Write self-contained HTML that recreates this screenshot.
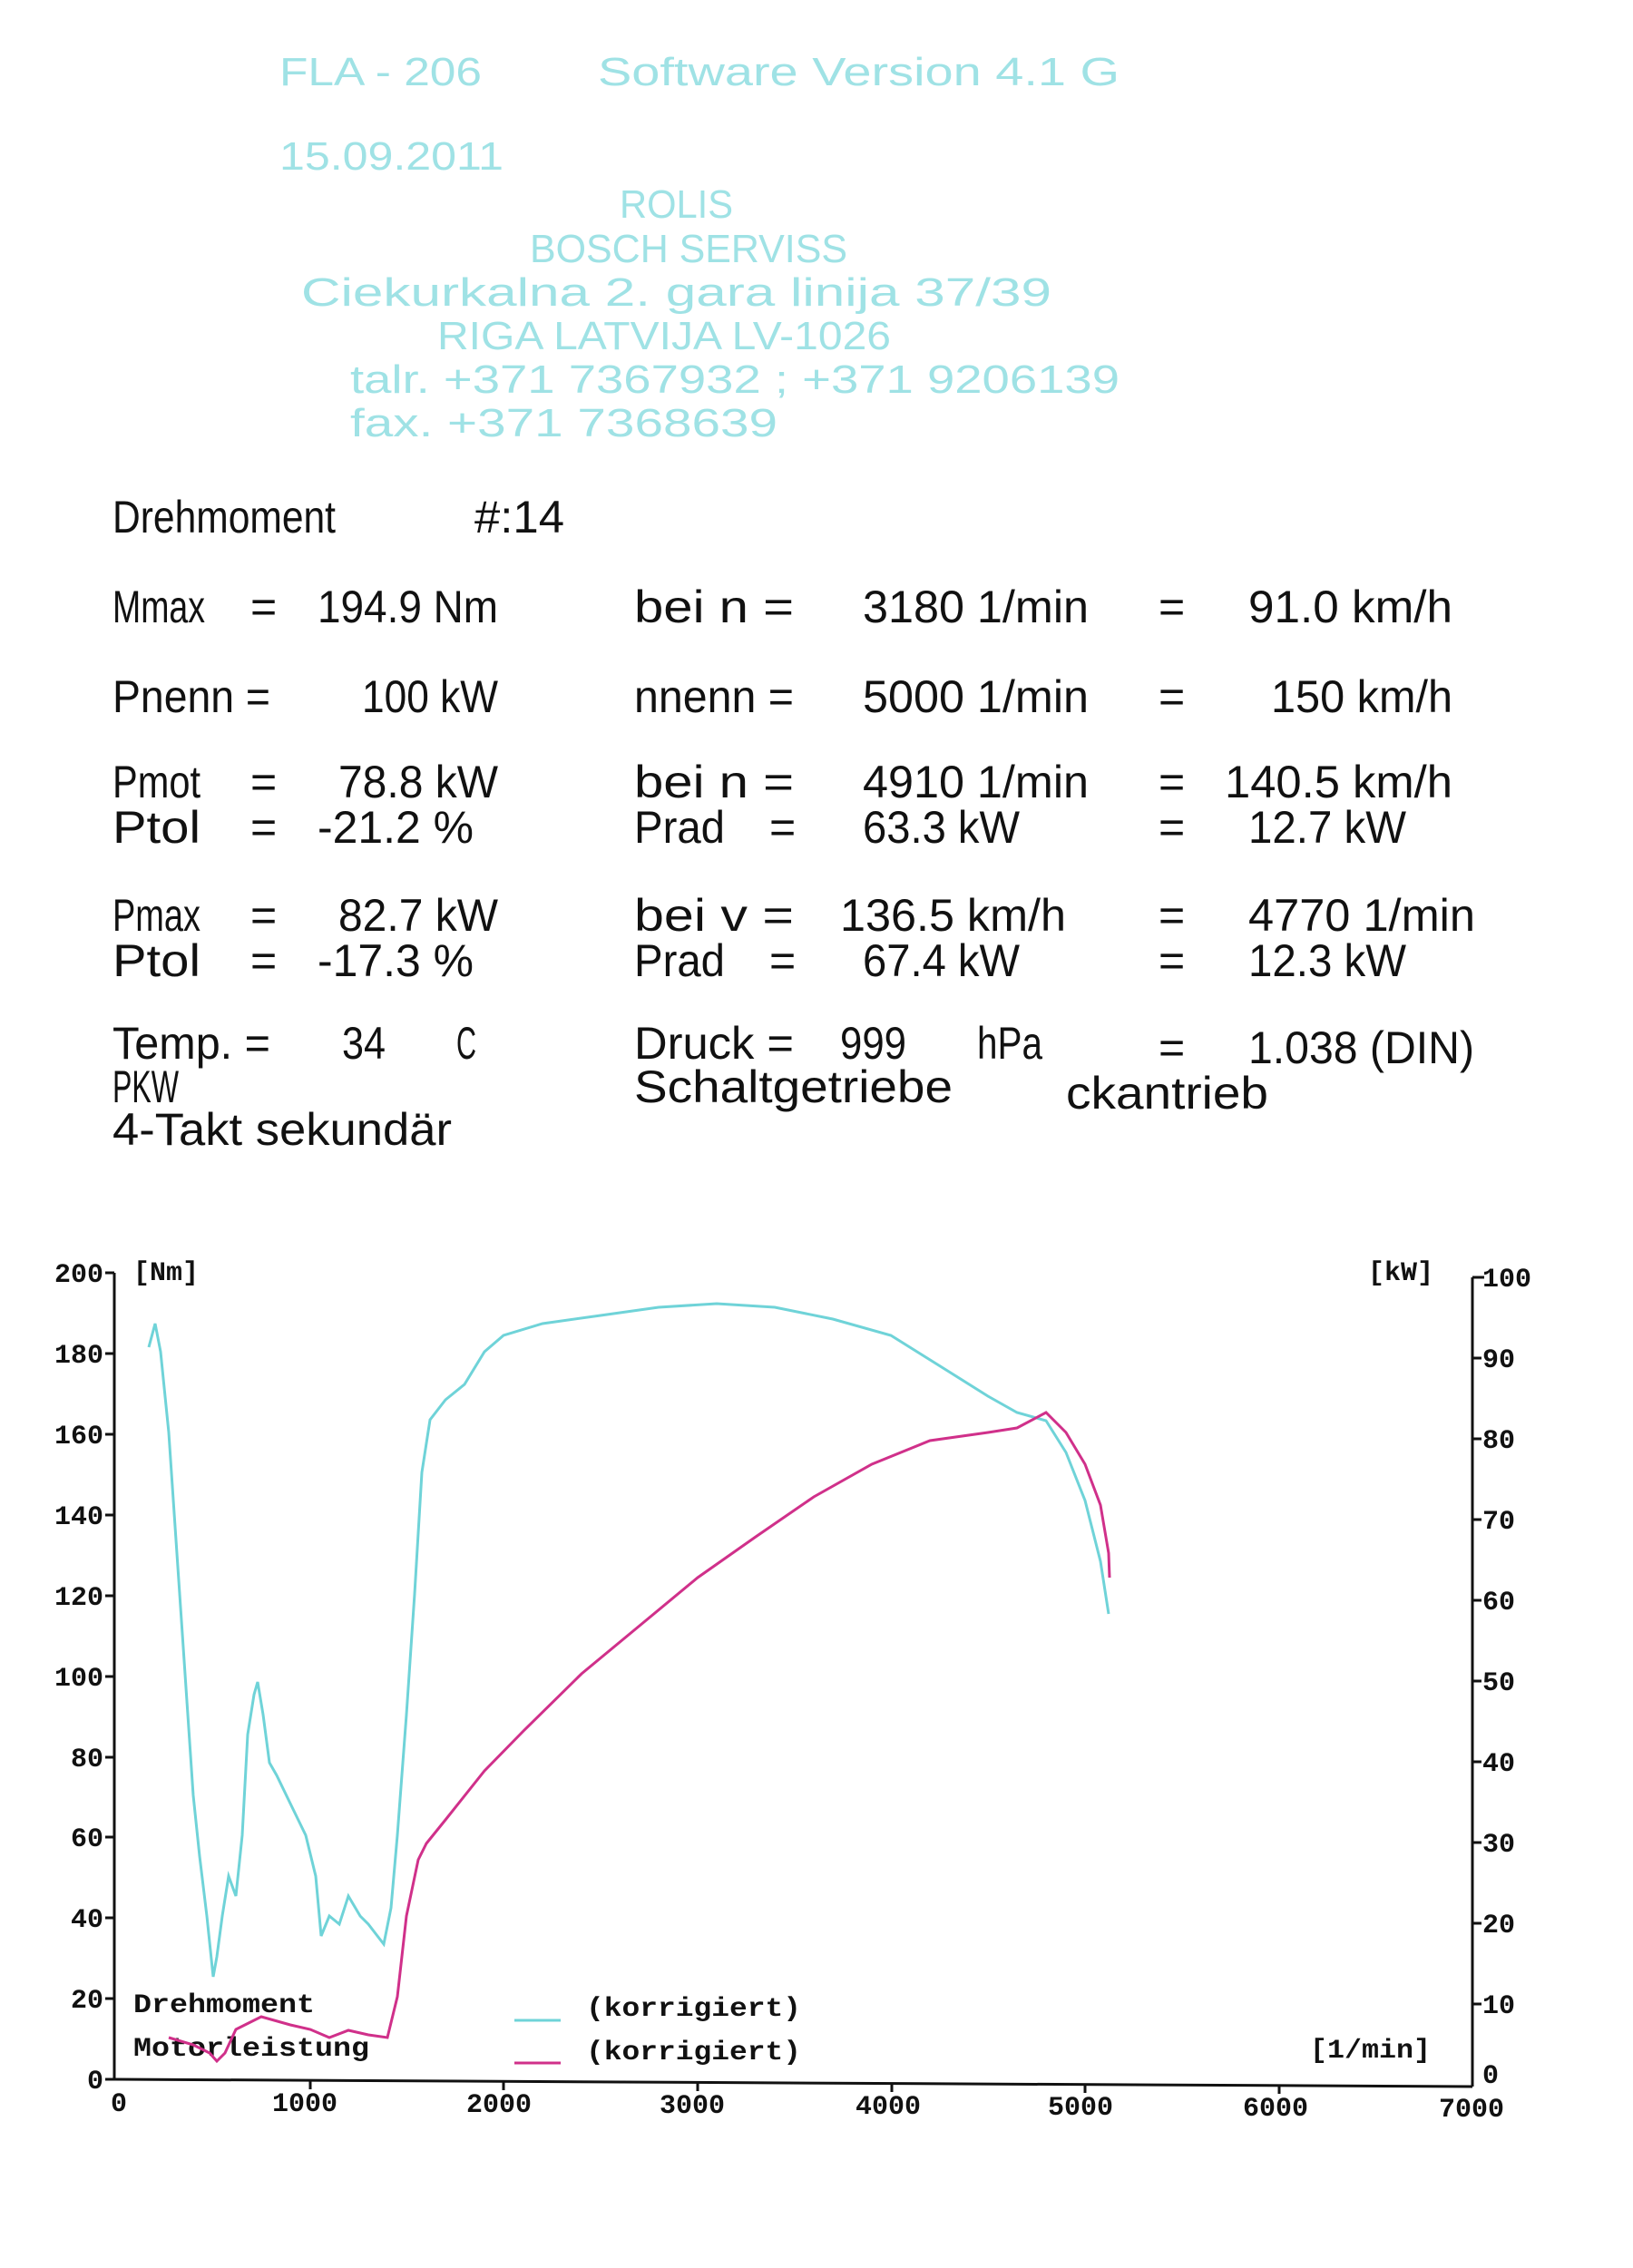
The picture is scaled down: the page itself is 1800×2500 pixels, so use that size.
<!DOCTYPE html>
<html><head><meta charset="utf-8"><style>
html,body{margin:0;padding:0;background:#fff;}
svg{display:block;}
.h{font-family:"Liberation Sans",sans-serif;fill:#9fe2e5;font-size:44px;}
.t{font-family:"Liberation Sans",sans-serif;fill:#111;font-size:50px;}
.a{font-family:"Liberation Mono",monospace;fill:#111;font-size:30px;font-weight:bold;}
</style></head><body>
<svg width="1800" height="2500" viewBox="0 0 1800 2500" xmlns="http://www.w3.org/2000/svg">
<rect width="1800" height="2500" fill="#fff"/>
<g class="h">
<text x="308" y="94" textLength="223" lengthAdjust="spacingAndGlyphs">FLA - 206</text>
<text x="659" y="94" textLength="575" lengthAdjust="spacingAndGlyphs">Software Version  4.1 G</text>
<text x="308" y="187" textLength="247" lengthAdjust="spacingAndGlyphs">15.09.2011</text>
<text x="683" y="240" textLength="125" lengthAdjust="spacingAndGlyphs">ROLIS</text>
<text x="584" y="289" textLength="350" lengthAdjust="spacingAndGlyphs">BOSCH  SERVISS</text>
<text x="332" y="337" textLength="827" lengthAdjust="spacingAndGlyphs">Ciekurkalna  2. gara linija 37/39</text>
<text x="482" y="385" textLength="500" lengthAdjust="spacingAndGlyphs">RIGA LATVIJA LV-1026</text>
<text x="386" y="433" textLength="848" lengthAdjust="spacingAndGlyphs">talr.   +371 7367932 ; +371 9206139</text>
<text x="386" y="481" textLength="471" lengthAdjust="spacingAndGlyphs">fax.    +371 7368639</text>
</g>
<g class="t">
<text x="124" y="587" textLength="246" lengthAdjust="spacingAndGlyphs">Drehmoment</text>
<text x="523" y="587" textLength="99" lengthAdjust="spacingAndGlyphs">#:14</text>

<text x="124" y="686" textLength="102" lengthAdjust="spacingAndGlyphs">Mmax</text>
<text x="276" y="686">=</text>
<text x="350" y="686" textLength="199" lengthAdjust="spacingAndGlyphs">194.9 Nm</text>
<text x="699" y="686" textLength="176" lengthAdjust="spacingAndGlyphs">bei n =</text>
<text x="951" y="686" textLength="249" lengthAdjust="spacingAndGlyphs">3180 1/min</text>
<text x="1277" y="686">=</text>
<text x="1376" y="686" textLength="225" lengthAdjust="spacingAndGlyphs">91.0 km/h</text>

<text x="124" y="785" textLength="174" lengthAdjust="spacingAndGlyphs">Pnenn =</text>
<text x="399" y="785" textLength="150" lengthAdjust="spacingAndGlyphs">100 kW</text>
<text x="699" y="785" textLength="176" lengthAdjust="spacingAndGlyphs">nnenn =</text>
<text x="951" y="785" textLength="249" lengthAdjust="spacingAndGlyphs">5000 1/min</text>
<text x="1277" y="785">=</text>
<text x="1401" y="785" textLength="200" lengthAdjust="spacingAndGlyphs">150 km/h</text>

<text x="124" y="879" textLength="97" lengthAdjust="spacingAndGlyphs">Pmot</text>
<text x="276" y="879">=</text>
<text x="373" y="879" textLength="176" lengthAdjust="spacingAndGlyphs">78.8 kW</text>
<text x="699" y="879" textLength="176" lengthAdjust="spacingAndGlyphs">bei n =</text>
<text x="951" y="879" textLength="249" lengthAdjust="spacingAndGlyphs">4910 1/min</text>
<text x="1277" y="879">=</text>
<text x="1350" y="879" textLength="251" lengthAdjust="spacingAndGlyphs">140.5 km/h</text>

<text x="124" y="929" textLength="97" lengthAdjust="spacingAndGlyphs">Ptol</text>
<text x="276" y="929">=</text>
<text x="350" y="929" textLength="172" lengthAdjust="spacingAndGlyphs">-21.2 %</text>
<text x="699" y="929" textLength="100" lengthAdjust="spacingAndGlyphs">Prad</text>
<text x="848" y="929">=</text>
<text x="951" y="929" textLength="173" lengthAdjust="spacingAndGlyphs">63.3 kW</text>
<text x="1277" y="929">=</text>
<text x="1376" y="929" textLength="174" lengthAdjust="spacingAndGlyphs">12.7 kW</text>

<text x="124" y="1026" textLength="97" lengthAdjust="spacingAndGlyphs">Pmax</text>
<text x="276" y="1026">=</text>
<text x="373" y="1026" textLength="176" lengthAdjust="spacingAndGlyphs">82.7 kW</text>
<text x="699" y="1026" textLength="176" lengthAdjust="spacingAndGlyphs">bei v =</text>
<text x="926" y="1026" textLength="249" lengthAdjust="spacingAndGlyphs">136.5 km/h</text>
<text x="1277" y="1026">=</text>
<text x="1376" y="1026" textLength="250" lengthAdjust="spacingAndGlyphs">4770 1/min</text>

<text x="124" y="1076" textLength="97" lengthAdjust="spacingAndGlyphs">Ptol</text>
<text x="276" y="1076">=</text>
<text x="350" y="1076" textLength="172" lengthAdjust="spacingAndGlyphs">-17.3 %</text>
<text x="699" y="1076" textLength="100" lengthAdjust="spacingAndGlyphs">Prad</text>
<text x="848" y="1076">=</text>
<text x="951" y="1076" textLength="173" lengthAdjust="spacingAndGlyphs">67.4 kW</text>
<text x="1277" y="1076">=</text>
<text x="1376" y="1076" textLength="174" lengthAdjust="spacingAndGlyphs">12.3 kW</text>

<text x="124" y="1167" textLength="174" lengthAdjust="spacingAndGlyphs">Temp. =</text>
<text x="377" y="1167" textLength="48" lengthAdjust="spacingAndGlyphs">34</text>
<text x="503" y="1167" textLength="22" lengthAdjust="spacingAndGlyphs">C</text>
<text x="699" y="1167" textLength="176" lengthAdjust="spacingAndGlyphs">Druck =</text>
<text x="926" y="1167" textLength="73" lengthAdjust="spacingAndGlyphs">999</text>
<text x="1077" y="1167" textLength="72" lengthAdjust="spacingAndGlyphs">hPa</text>
<text x="1277" y="1172">=</text>
<text x="1376" y="1172" textLength="249" lengthAdjust="spacingAndGlyphs">1.038 (DIN)</text>
<text x="124" y="1215" textLength="73" lengthAdjust="spacingAndGlyphs">PKW</text>
<text x="699" y="1215" textLength="351" lengthAdjust="spacingAndGlyphs">Schaltgetriebe</text>
<text x="1175" y="1222" textLength="223" lengthAdjust="spacingAndGlyphs">ckantrieb</text>
<text x="124" y="1262" textLength="374" lengthAdjust="spacingAndGlyphs">4-Takt sekundär</text>
</g>

<g stroke="#111" stroke-width="3" fill="none">
<line x1="126" y1="1403" x2="126" y2="2292"/>
<line x1="126" y1="2292" x2="1623" y2="2300"/>
<line x1="1623" y1="1408" x2="1623" y2="2300"/>
<line x1="1623" y1="1408" x2="1636" y2="1408"/>
<line x1="116" y1="1403" x2="126" y2="1403"/>
</g>
<g stroke="#111" stroke-width="3">
<line x1="116" y1="1492" x2="126" y2="1492"/><line x1="116" y1="1581" x2="126" y2="1581"/>
<line x1="116" y1="1670" x2="126" y2="1670"/><line x1="116" y1="1759" x2="126" y2="1759"/>
<line x1="116" y1="1848" x2="126" y2="1848"/><line x1="116" y1="1937" x2="126" y2="1937"/>
<line x1="116" y1="2025" x2="126" y2="2025"/><line x1="116" y1="2114" x2="126" y2="2114"/>
<line x1="116" y1="2203" x2="126" y2="2203"/><line x1="116" y1="2292" x2="126" y2="2292"/>
<line x1="1623" y1="1497" x2="1633" y2="1497"/><line x1="1623" y1="1586" x2="1633" y2="1586"/>
<line x1="1623" y1="1675" x2="1633" y2="1675"/><line x1="1623" y1="1764" x2="1633" y2="1764"/>
<line x1="1623" y1="1853" x2="1633" y2="1853"/><line x1="1623" y1="1942" x2="1633" y2="1942"/>
<line x1="1623" y1="2031" x2="1633" y2="2031"/><line x1="1623" y1="2120" x2="1633" y2="2120"/>
<line x1="1623" y1="2209" x2="1633" y2="2209"/>
<line x1="342" y1="2293" x2="342" y2="2303"/><line x1="555" y1="2294" x2="555" y2="2304"/>
<line x1="769" y1="2295" x2="769" y2="2305"/><line x1="983" y1="2296" x2="983" y2="2306"/>
<line x1="1196" y1="2297" x2="1196" y2="2307"/><line x1="1410" y1="2298" x2="1410" y2="2308"/>
</g>
<g class="a" text-anchor="end">
<text x="114" y="1413">200</text><text x="114" y="1502">180</text><text x="114" y="1591">160</text>
<text x="114" y="1680">140</text><text x="114" y="1769">120</text><text x="114" y="1858">100</text>
<text x="114" y="1947">80</text><text x="114" y="2035">60</text><text x="114" y="2124">40</text>
<text x="114" y="2213">20</text><text x="114" y="2302">0</text>
</g>
<g class="a">
<text x="1634" y="1418">100</text><text x="1634" y="1507">90</text><text x="1634" y="1596">80</text>
<text x="1634" y="1685">70</text><text x="1634" y="1774">60</text><text x="1634" y="1863">50</text>
<text x="1634" y="1952">40</text><text x="1634" y="2041">30</text><text x="1634" y="2130">20</text>
<text x="1634" y="2219">10</text><text x="1634" y="2296">0</text>
</g>
<g class="a" text-anchor="middle">
<text x="131" y="2327">0</text><text x="336" y="2327">1000</text><text x="550" y="2328">2000</text>
<text x="763" y="2329">3000</text><text x="979" y="2330">4000</text><text x="1191" y="2331">5000</text>
<text x="1406" y="2332">6000</text><text x="1622" y="2333">7000</text>
</g>
<g class="a">
<text x="147" y="1411">[Nm]</text>
<text x="1508" y="1411">[kW]</text>
<text x="1444" y="2268" textLength="133" lengthAdjust="spacingAndGlyphs">[1/min]</text>
<text x="147" y="2218" textLength="200" lengthAdjust="spacingAndGlyphs">Drehmoment</text>
<text x="147" y="2266" textLength="260" lengthAdjust="spacingAndGlyphs">Motorleistung</text>
<text x="646" y="2222" textLength="237" lengthAdjust="spacingAndGlyphs">(korrigiert)</text>
<text x="646" y="2270" textLength="237" lengthAdjust="spacingAndGlyphs">(korrigiert)</text>
</g>
<line x1="567" y1="2227" x2="618" y2="2227" stroke="#6fd3d8" stroke-width="3"/>
<line x1="567" y1="2274" x2="618" y2="2274" stroke="#d0308a" stroke-width="3"/>

<polyline fill="none" stroke="#6fd3d8" stroke-width="3" points="
164,1485 171,1459 177,1490 186,1579 192,1668 201,1801 207,1890 213,1979 220,2046 228,2112 235,2179
239,2157 245,2112 252,2068 260,2090 267,2023 273,1912 280,1868 284,1854 290,1890 297,1943 305,1957
320,1988 337,2023 348,2068 354,2134 363,2112 374,2121 384,2090 397,2112 406,2121 416,2134 423,2143
431,2103 438,2023 448,1890 457,1757 465,1623 474,1565 491,1543 512,1526 534,1490 555,1472 598,1459
662,1450 726,1441 790,1437 854,1441 918,1454 982,1472 1046,1512 1089,1539 1121,1557 1153,1566
1175,1601 1196,1654 1213,1721 1222,1779"/>
<polyline fill="none" stroke="#d0308a" stroke-width="3" points="
186,2246 213,2254 231,2263 239,2272 248,2263 260,2237 278,2228 288,2223 320,2232 342,2237 363,2246
384,2238 406,2243 427,2246 438,2201 448,2112 461,2050 470,2032 491,2006 534,1952 577,1908 641,1845
705,1792 769,1739 833,1694 897,1650 961,1614 1025,1588 1089,1579 1121,1574 1153,1557 1175,1579
1196,1614 1213,1659 1222,1712 1223,1739"/>
</svg>
</body></html>
